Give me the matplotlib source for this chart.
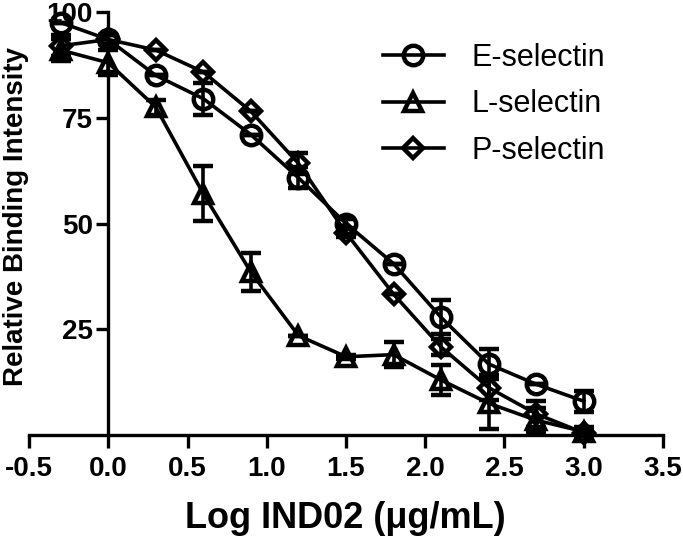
import matplotlib.pyplot as plt
import numpy as np

plt.rcParams['font.family'] = ['Liberation Sans', 'DejaVu Sans']

# log dose values
log_dose = [-0.3, 0.0, 0.3, 0.6, 0.9, 1.2, 1.5, 1.8, 2.1, 2.4, 2.7, 3.0]

e_sel = [97.5, 93.5, 85.0, 79.5, 71.0, 60.8, 50.0, 40.5, 27.8, 16.8, 12.0, 8.0]
e_err = [0.0, 1.0, 0.0, 3.8, 0.0, 2.5, 1.0, 0.0, 4.0, 3.5, 0.0, 2.5]

l_sel = [91.0, 88.0, 77.5, 57.0, 38.5, 23.5, 18.5, 19.0, 13.0, 7.5, 3.5, 0.8]
l_err = [2.5, 3.0, 1.8, 6.5, 4.5, 0.0, 0.5, 3.0, 3.5, 6.0, 3.0, 1.0]

p_sel = [92.0, 93.5, 91.0, 85.8, 76.5, 64.2, 47.8, 33.3, 20.8, 11.2, 5.0, 0.5]
p_err = [2.5, 1.0, 0.0, 0.0, 0.0, 2.5, 1.0, 0.0, 2.0, 3.0, 3.0, 0.5]

labels = ['E-selectin', 'L-selectin', 'P-selectin']

fig = plt.figure(figsize=(6.83, 5.4), dpi=100)
ax = fig.add_axes([0.0425, 0.1944, 0.9282, 0.7834])

styles = [('o', 14), ('^', 12.5), ('D', 10.5)]
handles = []
for y, err, (mk, ms), lab in zip([e_sel, l_sel, p_sel], [e_err, l_err, p_err], styles, labels):
    ax.errorbar(log_dose, y, yerr=err, fmt='none', ecolor='black',
                elinewidth=2.6, capsize=7, capthick=3.2, clip_on=False, zorder=3)
    h, = ax.plot(log_dose, y, color='black', lw=2.6, marker=mk, ms=ms,
                 mfc='none', mec='black', mew=3.2, clip_on=False, zorder=4, label=lab)
    handles.append(h)

ax.set_xlim(-0.5, 3.5)
ax.set_ylim(0, 100)
ax.spines['top'].set_visible(False)
ax.spines['right'].set_visible(False)
ax.spines['left'].set_position(('data', 0))
ax.spines['left'].set_linewidth(2.4)
ax.spines['bottom'].set_linewidth(2.4)

ax.set_xticks(np.arange(-0.5, 3.6, 0.5))
ax.set_xticklabels(['%.1f' % v for v in np.arange(-0.5, 3.6, 0.5)])
ax.set_yticks([25, 50, 75, 100])
ax.tick_params(axis='both', width=2.4, length=9, labelsize=20)
for t in ax.get_xticklabels() + ax.get_yticklabels():
    t.set_fontweight('bold')
ax.tick_params(axis='x', pad=6)
ax.tick_params(axis='y', pad=2)

fig.text(0.505, 0.04, 'Log IND02 (\u03bcg/mL)', ha='center', va='center',
         fontsize=26, fontweight='bold')
fig.text(0.024, 0.60, 'Relative Binding Intensity', ha='center', va='center',
         rotation=90, fontsize=20, fontweight='bold')

leg = ax.legend(handles=handles, loc='upper left', bbox_to_anchor=(0.51, 1.0),
                frameon=False, fontsize=22, handlelength=2.0, handletextpad=0.9,
                labelspacing=0.55, borderaxespad=0.6)

fig.savefig('out.png', dpi=100)
